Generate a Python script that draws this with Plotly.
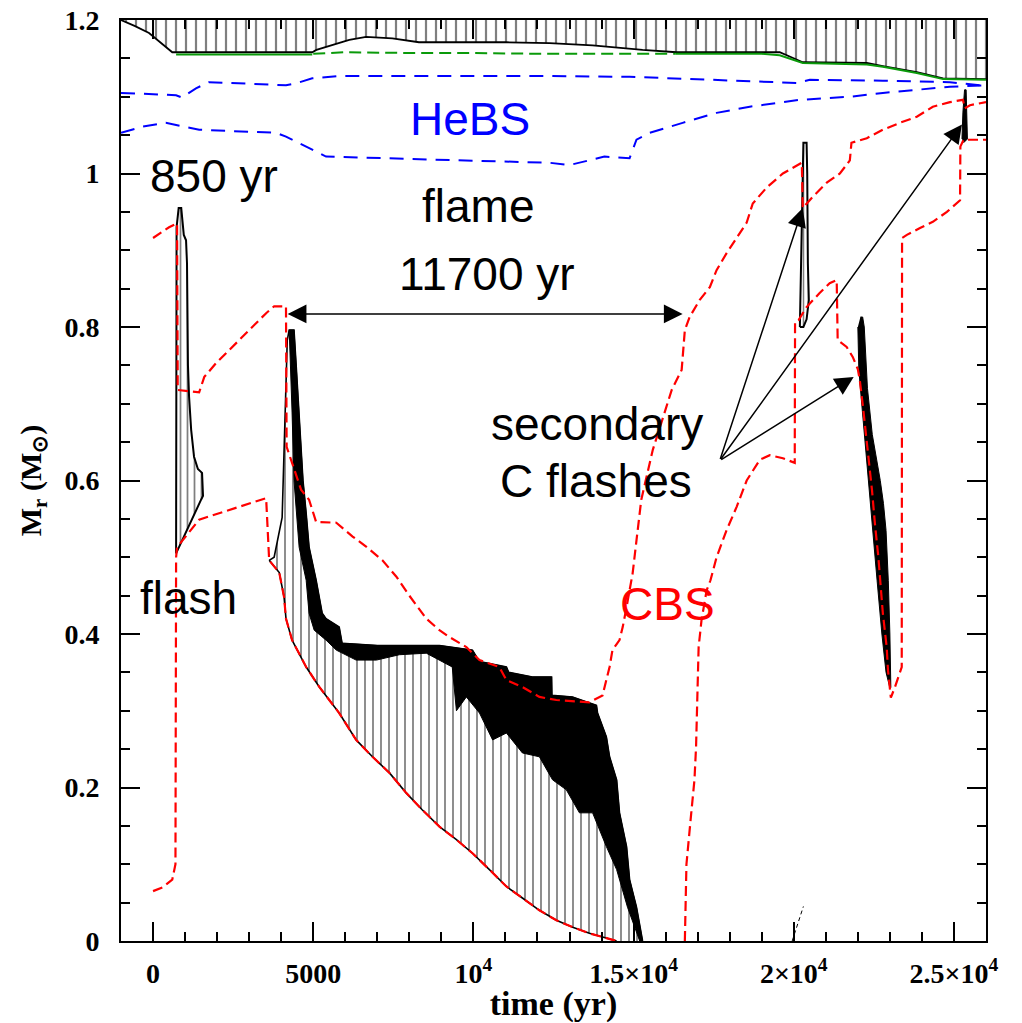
import plotly.graph_objects as go

# ---------------- data ----------------
# convective envelope lower boundary (hatched up to the surface, 1.2 Msun)
env_t = [-1000, -560, -125, 600, 4970, 5100, 6125, 6650, 7470, 8300, 11030, 12375,
         13720, 15280, 16340, 19560, 20280, 22280, 22780, 23840, 24660, 26000]
env_m = [1.200, 1.192, 1.183, 1.158, 1.158, 1.161, 1.174, 1.178, 1.176, 1.171, 1.171, 1.170,
         1.167, 1.161, 1.158, 1.158, 1.145, 1.144, 1.140, 1.132, 1.124, 1.123]

# H-burning shell (green)
hbs1_t = [720, 4970]
hbs1_m = [1.155, 1.155]
hbs2_t = [5000, 6000, 8000, 10000, 12000, 14000, 16300]
hbs2_m = [1.156, 1.158, 1.157, 1.157, 1.156, 1.156, 1.156]
hbs3_t = [16300, 19000, 19560, 20280, 22280, 22780, 23840, 24660, 26000]
hbs3_m = [1.156, 1.156, 1.154, 1.144, 1.142, 1.139, 1.131, 1.123, 1.122]

# He-burning shell boundaries (blue)
hebs_top_t = [-1000, 720, 900, 1340, 1750, 4150, 4500, 4970, 5810, 12375, 14875,
              17590, 20090, 20500, 22780, 24875, 26000]
hebs_top_m = [1.105, 1.102, 1.099, 1.111, 1.119, 1.115, 1.118, 1.124, 1.127, 1.127, 1.126,
              1.122, 1.118, 1.122, 1.121, 1.119, 1.114]
hebs_bot_t = [-1000, -340, 400, 1440, 3840, 4150, 4970, 5400, 12375, 13000, 14090, 14875,
              15090, 15500, 16530, 17590, 18625, 20190, 21750, 22780, 24875, 26000]
hebs_bot_m = [1.053, 1.061, 1.066, 1.057, 1.053, 1.048, 1.031, 1.022, 1.014, 1.011, 1.022, 1.020,
              1.044, 1.053, 1.066, 1.079, 1.087, 1.096, 1.100, 1.105, 1.113, 1.115]

# C-burning shell upper boundary (red)
cbs_top_t = [0, 500, 750, 770, 1440, 1600, 1970, 2370, 2780, 3220, 3530, 3780, 4150, 4170,
             4410, 4620, 4870, 5090, 5720, 6230, 6650, 7160, 7590, 8000, 8530, 8940, 9250,
             9780, 10190, 10810, 11030, 11530, 12060, 12590, 13620, 14030, 14250, 14340,
             14560, 14660, 14780, 14875, 14970, 15090, 15240, 15600, 16030, 16190, 16500,
             16600, 16750, 17060, 17380, 17590, 17900, 18220, 18530, 18720, 19160, 19660,
             20090, 20250, 20280, 20600, 21030, 21440, 21750, 21800, 22280, 22780, 23310,
             23840, 24340, 24875, 25280, 25340, 25500, 26000]
cbs_top_m = [0.916, 0.930, 0.935, 0.718, 0.715, 0.735, 0.753, 0.770, 0.787, 0.805, 0.818, 0.827,
             0.827, 0.644, 0.614, 0.588, 0.575, 0.546, 0.545, 0.527, 0.514, 0.496, 0.475,
             0.450, 0.420, 0.405, 0.396, 0.383, 0.366, 0.357, 0.340, 0.331, 0.318, 0.314,
             0.311, 0.320, 0.357, 0.379, 0.392, 0.409, 0.435, 0.457, 0.479, 0.522, 0.575,
             0.640, 0.696, 0.718, 0.744, 0.796, 0.813, 0.835, 0.852, 0.874, 0.896, 0.917,
             0.936, 0.961, 0.982, 1.000, 1.011, 1.014, 0.955, 0.970, 0.988, 1.000, 1.017,
             1.040, 1.046, 1.057, 1.066, 1.074, 1.087, 1.093, 1.096, 1.085, 1.089, 1.093]

# C-burning shell lower boundary (red), first part (flash + flame)
cbs_bot1_t = [0, 300, 600, 700, 720, 750, 1440, 2600, 3530, 3625, 3940, 4090, 4150, 4340,
              4780, 5190, 5810, 6340, 6850, 7380, 7900, 8400, 8940, 9470, 9980, 10500,
              11030, 11530, 12060, 12590, 13100, 13620, 14150, 14470]
cbs_bot1_m = [0.065, 0.070, 0.080, 0.100, 0.500, 0.513, 0.549, 0.564, 0.577, 0.496, 0.480,
              0.448, 0.420, 0.392, 0.357, 0.331, 0.297, 0.262, 0.240, 0.219, 0.193, 0.171,
              0.149, 0.132, 0.114, 0.093, 0.071, 0.056, 0.040, 0.027, 0.018, 0.010, 0.004, 0.0]

# C-burning shell lower boundary (red), second part (secondary flashes)
cbs_bot2_t = [16600, 16650, 16800, 16900, 16950, 16980, 17030, 17120, 17280, 17400, 17590,
              17900, 18220, 18530, 18940, 19250, 19660, 20030, 20040, 20150, 20400, 20800,
              21120, 21340, 21370, 21650, 21840, 22000, 22060, 22160, 22280, 22440, 22530,
              22640, 22780, 22900, 22940, 23030, 23160, 23310, 23370, 23380, 23530, 23940,
              24340, 24780, 25190, 25200, 25300, 26000]
cbs_bot2_m = [0.000, 0.100, 0.167, 0.210, 0.253, 0.318, 0.383, 0.418, 0.457, 0.470, 0.500,
              0.535, 0.566, 0.600, 0.627, 0.633, 0.629, 0.623, 0.807, 0.809, 0.826, 0.844,
              0.857, 0.861, 0.783, 0.774, 0.761, 0.745, 0.731, 0.696, 0.653, 0.588, 0.545,
              0.500, 0.427, 0.383, 0.353, 0.317, 0.331, 0.350, 0.357, 0.916, 0.920, 0.929,
              0.937, 0.950, 0.965, 1.035, 1.044, 1.044]

# convective C flame: outer (upper/right) edge
flame_top_t = [3625, 3780, 4030, 4125, 4190, 4250, 4400, 4470, 4560, 4620, 4680, 4780, 4870,
               5090, 5280, 5400, 5810, 5900, 7000, 8940, 9300, 9970, 10190, 11030, 11100,
               11840, 12440, 12450, 13090, 13840, 13875, 14150, 14250, 14470, 14560, 14780,
               14875, 15090, 15280]
flame_top_m = [0.496, 0.500, 0.552, 0.688, 0.783, 0.796, 0.796, 0.748, 0.688, 0.644, 0.600,
               0.557, 0.513, 0.470, 0.427, 0.420, 0.409, 0.388, 0.385, 0.385, 0.383, 0.379,
               0.364, 0.357, 0.350, 0.344, 0.344, 0.320, 0.318, 0.307, 0.297, 0.266, 0.240,
               0.210, 0.167, 0.123, 0.080, 0.044, 0.000]
# inner edge of the dense (solid black) part of the flame
band_in_t = [4250, 4340, 4400, 4560, 4780, 4870, 5030, 5400, 5720, 6340, 6970, 7690, 8530,
             9340, 9470, 9780, 10190, 10600, 11030, 11530, 12060, 12470, 12900, 13310, 13720,
             13940, 14150, 14470, 14660, 14810, 15190]
band_in_m = [0.796, 0.688, 0.600, 0.513, 0.470, 0.427, 0.405, 0.392, 0.379, 0.366, 0.366,
             0.373, 0.375, 0.357, 0.300, 0.318, 0.297, 0.262, 0.271, 0.245, 0.240, 0.210,
             0.197, 0.167, 0.167, 0.145, 0.123, 0.093, 0.066, 0.044, 0.000]

# convective zones of the flashes
fl1_t = [720, 735, 800, 880, 960, 1030, 1060, 1075, 1090, 1125, 1190, 1280, 1400, 1530, 1560, 1500, 750]
fl1_m = [0.505, 0.930, 0.955, 0.955, 0.920, 0.913, 0.883, 0.800, 0.750, 0.709, 0.666, 0.631,
         0.615, 0.610, 0.580, 0.575, 0.509]
fl2_t = [20190, 20250, 20300, 20400, 20420, 20440, 20470, 20400, 20300]
fl2_m = [0.800, 0.950, 1.040, 1.040, 1.000, 0.883, 0.835, 0.810, 0.800]
fl3_t = [22000, 22030, 22100, 22200, 22330, 22480, 22600, 22750, 22880, 23000, 23030, 23000,
         22950, 22880, 22800, 22700, 22600, 22450, 22300, 22200, 22150, 22080]
fl3_m = [0.800, 0.745, 0.710, 0.660, 0.600, 0.530, 0.470, 0.400, 0.350, 0.330, 0.330, 0.400,
         0.470, 0.535, 0.570, 0.600, 0.625, 0.660, 0.720, 0.800, 0.813, 0.813]
fl4_t = [25250, 25280, 25330, 25380, 25420, 25300]
fl4_m = [1.045, 1.080, 1.109, 1.109, 1.045, 1.040]

# faint dashed feature near the centre
small_t = [19950, 20300]
small_m = [0.000, 0.045]

# arrows
span_t = [4156, 16530]
span_m = 0.817
arrow_tail = (17690, 0.626)
arrow_tip_t = [20280, 25250, 21870]
arrow_tip_m = [0.955, 1.064, 0.735]

# text labels
label_text = ["850 yr", "HeBS", "flame", "11700 yr", "secondary", "C flashes", "flash", "CBS"]
label_t = [1906, 9906, 10156, 10437, 13844, 13812, 1094, 16062]
label_m = [0.997, 1.071, 0.958, 0.869, 0.674, 0.599, 0.447, 0.439]
label_col = ["black", "#0000ff", "black", "black", "black", "black", "black", "#ff0000"]

x_tick_vals = [0, 5000, 10000, 15000, 20000, 25000]
x_tick_text = ["0", "5000", "10<sup>4</sup>", "1.5×10<sup>4</sup>", "2×10<sup>4</sup>", "2.5×10<sup>4</sup>"]

# ---------------- figure ----------------
fig = go.Figure()
NOHOVER = dict(hoverinfo="skip", showlegend=False)


def hatch(ts, ms, size=10, sol=0.15):
    fig.add_trace(go.Scatter(x=ts, y=ms, mode="lines", line=dict(width=0),
                             fill="toself", fillcolor="rgba(0,0,0,0)",
                             fillpattern=dict(shape="|", size=size, solidity=sol,
                                              fgcolor="black", bgcolor="rgba(0,0,0,0)"),
                             **NOHOVER))


def solid(ts, ms):
    fig.add_trace(go.Scatter(x=ts, y=ms, mode="lines", line=dict(width=1, color="black"),
                             fill="toself", fillcolor="black", **NOHOVER))


def line(ts, ms, color="black", width=1.5, dash="solid"):
    fig.add_trace(go.Scatter(x=ts, y=ms, mode="lines",
                             line=dict(color=color, width=width, dash=dash), **NOHOVER))


# envelope
hatch(env_t + [env_t[-1], env_t[0]], env_m + [1.2, 1.2], size=10, sol=0.22)
line(env_t, env_m, width=1.8)

# flame convective zone
k0 = cbs_bot1_t.index(3625)
flame_poly_t = flame_top_t + cbs_bot1_t[k0:][::-1]
flame_poly_m = flame_top_m + cbs_bot1_m[k0:][::-1]
hatch(flame_poly_t, flame_poly_m, size=8, sol=0.22)
line(flame_top_t, flame_top_m, width=1.6)
line(cbs_bot1_t[k0:], cbs_bot1_m[k0:], width=1.6)
i0 = flame_top_t.index(4250)
solid(flame_top_t[i0:] + band_in_t[::-1], flame_top_m[i0:] + band_in_m[::-1])

# flashes
hatch(fl1_t, fl1_m, size=7, sol=0.25)
line(fl1_t + [fl1_t[0]], fl1_m + [fl1_m[0]], width=2)
hatch(fl2_t, fl2_m, size=5, sol=0.3)
line(fl2_t + [fl2_t[0]], fl2_m + [fl2_m[0]], width=2)
solid(fl3_t, fl3_m)
solid(fl4_t, fl4_m)

# shells
line(hbs1_t, hbs1_m, color="#0a9a0a", width=2)
line(hbs2_t, hbs2_m, color="#0a9a0a", width=2, dash="12px,6px")
line(hbs3_t, hbs3_m, color="#0a9a0a", width=2)
line(hebs_top_t, hebs_top_m, color="#0000ff", width=2, dash="14px,9px")
line(hebs_bot_t, hebs_bot_m, color="#0000ff", width=2, dash="14px,9px")
line(cbs_top_t, cbs_top_m, color="#ff0000", width=2.2, dash="10px,5px")
line(cbs_bot1_t, cbs_bot1_m, color="#ff0000", width=2.2, dash="10px,5px")
line(cbs_bot2_t, cbs_bot2_m, color="#ff0000", width=2.2, dash="10px,5px")
line(small_t, small_m, color="black", width=1, dash="4px,3px")

# labels
for txt, t, m, c in zip(label_text, label_t, label_m, label_col):
    fig.add_annotation(x=t, y=m, text=txt, showarrow=False, xanchor="center", yanchor="middle",
                       font=dict(family="Liberation Sans", size=46, color=c))

# 11700 yr double arrow
fig.add_annotation(x=span_t[1], y=span_m, ax=span_t[0], ay=span_m, axref="x", ayref="y",
                   xref="x", yref="y", text="", showarrow=True, arrowhead=2, arrowsize=2.5,
                   arrowwidth=1.5, arrowcolor="black", arrowside="end+start",
                   startarrowhead=2, startarrowsize=2.5, standoff=0, startstandoff=0)
# secondary flash arrows
for tt, tm in zip(arrow_tip_t, arrow_tip_m):
    fig.add_annotation(x=tt, y=tm, ax=arrow_tail[0], ay=arrow_tail[1], axref="x", ayref="y",
                       xref="x", yref="y", text="", showarrow=True, arrowhead=2, arrowsize=2.5,
                       arrowwidth=1.5, arrowcolor="black", standoff=0)

tickfont = dict(family="Liberation Serif", size=28, color="black", weight="bold")
fig.update_layout(width=1022, height=1023, margin=dict(l=121, r=36, t=20, b=82),
                  plot_bgcolor="white", paper_bgcolor="white", showlegend=False)
fig.update_xaxes(range=[-1000, 26000], tickvals=x_tick_vals, ticktext=x_tick_text,
                 ticks="inside", ticklen=19, tickwidth=1.5, tickcolor="black",
                 minor=dict(ticks="inside", ticklen=9, tickwidth=1.5, tickcolor="black",
                            tick0=0, dtick=1000),
                 showline=True, linewidth=2, linecolor="black", mirror="ticks",
                 showgrid=False, zeroline=False, tickfont=tickfont, ticklabelstandoff=6,
                 automargin=False,
                 title=dict(text="time (yr)", standoff=6,
                            font=dict(family="Liberation Serif", size=34, color="black", weight="bold")))
fig.update_yaxes(range=[0, 1.2], tick0=0, dtick=0.2,
                 ticks="inside", ticklen=19, tickwidth=1.5, tickcolor="black",
                 minor=dict(ticks="inside", ticklen=9, tickwidth=1.5, tickcolor="black",
                            tick0=0, dtick=0.05),
                 showline=True, linewidth=2, linecolor="black", mirror="ticks",
                 showgrid=False, zeroline=False, tickfont=tickfont, ticklabelstandoff=14,
                 automargin=False,
                 title=dict(text="M<sub>r</sub> (M<sub>⊙</sub>)", standoff=14,
                            font=dict(family="Liberation Serif", size=30, color="black", weight="bold")))

fig.write_html("out.html", config={"displayModeBar": False},
               post_script="document.body.style.margin='0px';")
